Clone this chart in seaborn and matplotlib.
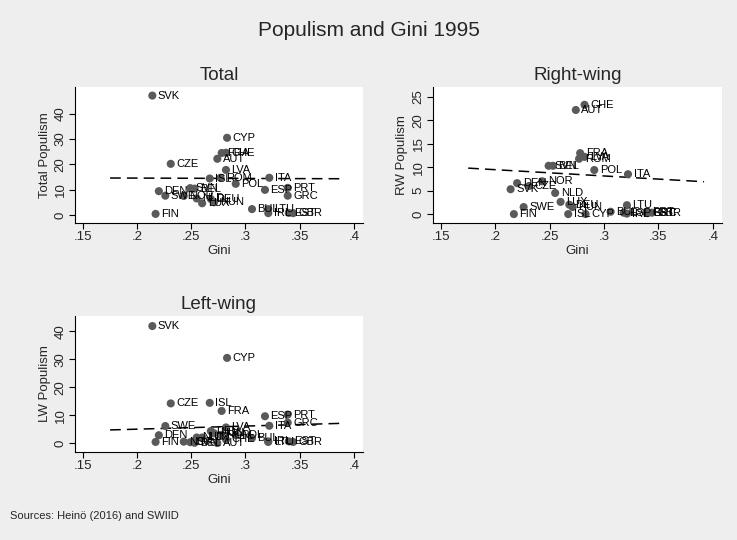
import pandas as pd
import matplotlib
matplotlib.use("Agg")
import matplotlib.pyplot as plt
import seaborn as sns

countries = ["SVK", "CYP", "FRA", "CHE", "AUT", "CZE", "LVA", "ISL", "ROM", "ITA",
             "POL", "ESP", "PRT", "GRC", "DEN", "SWE", "SVN", "BEL", "NOR", "NLD",
             "LUX", "DEU", "HUN", "FIN", "BUL", "LTU", "IRL", "EST", "GBR"]
gini = [0.214, 0.283, 0.278, 0.282, 0.274, 0.231, 0.282, 0.267, 0.277, 0.322,
        0.291, 0.318, 0.339, 0.339, 0.220, 0.226, 0.249, 0.253, 0.243, 0.255,
        0.260, 0.268, 0.271, 0.217, 0.306, 0.321, 0.321, 0.340, 0.344]
total_pop = [47.2, 30.5, 24.5, 24.6, 22.2, 20.2, 17.8, 14.4, 14.7, 14.7,
             12.3, 9.9, 10.7, 7.6, 9.4, 7.6, 10.6, 10.4, 7.5, 6.5,
             4.6, 6.3, 5.0, 0.4, 2.3, 2.3, 0.7, 0.8, 0.7]
rw_pop = [5.3, 0.0, 13.0, 23.3, 22.2, 6.0, 12.2, 0.0, 11.8, 8.5,
          9.4, 0.3, 0.5, 0.3, 6.6, 1.5, 10.3, 10.3, 7.0, 4.5,
          2.6, 2.0, 1.5, 0.0, 0.5, 1.9, 0.1, 0.2, 0.3]
lw_pop = [41.9, 30.5, 11.5, 1.3, 0.0, 14.2, 5.6, 14.4, 2.9, 6.2,
          2.9, 9.6, 10.2, 7.3, 2.8, 6.1, 0.3, 0.1, 0.5, 2.0,
          2.0, 4.3, 3.5, 0.4, 1.8, 0.4, 0.6, 0.6, 0.4]

# linear fit lines as drawn in the original (ends of each line)
fit_gini = [0.175, 0.392]
fit_total = [14.6, 14.3]
fit_rw = [9.8, 6.9]
fit_lw = [4.7, 7.1]

x_ticks = [0.15, 0.2, 0.25, 0.3, 0.35, 0.4]
x_tick_labels = [".15", ".2", ".25", ".3", ".35", ".4"]

df = pd.DataFrame({"country": countries, "gini": gini, "total": total_pop,
                   "rw": rw_pop, "lw": lw_pop})
fits = pd.DataFrame({"gini": fit_gini, "total": fit_total, "rw": fit_rw, "lw": fit_lw})

sns.set_theme(style="white")
plt.rcParams["font.family"] = ["Liberation Sans", "DejaVu Sans"]

bg = "#eeeeee"
dot = "#5a5a5a"

fig = plt.figure(figsize=(7.37, 5.40), dpi=100)
fig.patch.set_facecolor(bg)


def rect(left, top, right, bottom):
    return [left / 737, 1 - bottom / 540, (right - left) / 737, (bottom - top) / 540]


panels = [
    ("total", "Total", "Total Populism", rect(75, 87, 363, 223), (-3.2, 50.6), [0, 10, 20, 30, 40]),
    ("rw", "Right-wing", "RW Populism", rect(433, 87, 722, 223), (-1.9, 27.1), [0, 5, 10, 15, 20, 25]),
    ("lw", "Left-wing", "LW Populism", rect(75, 316, 363, 452), (-3.2, 45.5), [0, 10, 20, 30, 40]),
]

for col, title, ylabel, pos, ylim, yticks in panels:
    ax = fig.add_axes(pos)
    ax.set_facecolor("white")
    sns.scatterplot(data=df, x="gini", y=col, ax=ax, color=dot, s=34,
                    edgecolor="none", zorder=3)
    for _, r in df.iterrows():
        ax.annotate(r["country"], (r["gini"], r[col]), xytext=(4, 0),
                    textcoords="offset points", va="center", ha="left",
                    fontsize=8, color="black", zorder=4)
    ax.plot(fits["gini"], fits[col], color="black", lw=1.1,
            dashes=(7, 4), zorder=2)
    ax.set_xlim(0.1426, 0.4085)
    ax.set_ylim(*ylim)
    ax.set_xticks(x_ticks)
    ax.set_xticklabels(x_tick_labels)
    ax.set_yticks(yticks)
    ax.set_yticklabels([str(t) for t in yticks], rotation=90, va="center")
    ax.tick_params(axis="both", direction="out", length=4, width=0.8,
                   labelsize=9.5, color="black", pad=2, bottom=True, left=True)
    for side in ["top", "right"]:
        ax.spines[side].set_visible(False)
    for side in ["left", "bottom"]:
        ax.spines[side].set_color("black")
        ax.spines[side].set_linewidth(0.8)
    ax.set_xlabel("Gini", fontsize=9.5, labelpad=1)
    ax.set_ylabel(ylabel, fontsize=9.5, labelpad=3)
    ax.set_title(title, fontsize=13.5, pad=5)

fig.text(0.5, 1 - 30 / 540, "Populism and Gini 1995", ha="center", va="center",
         fontsize=15)
fig.text(10 / 737, 1 - 516 / 540, "Sources: Heinö (2016) and SWIID", ha="left",
         va="center", fontsize=8)

fig.savefig("out.png", dpi=100, facecolor=bg)
